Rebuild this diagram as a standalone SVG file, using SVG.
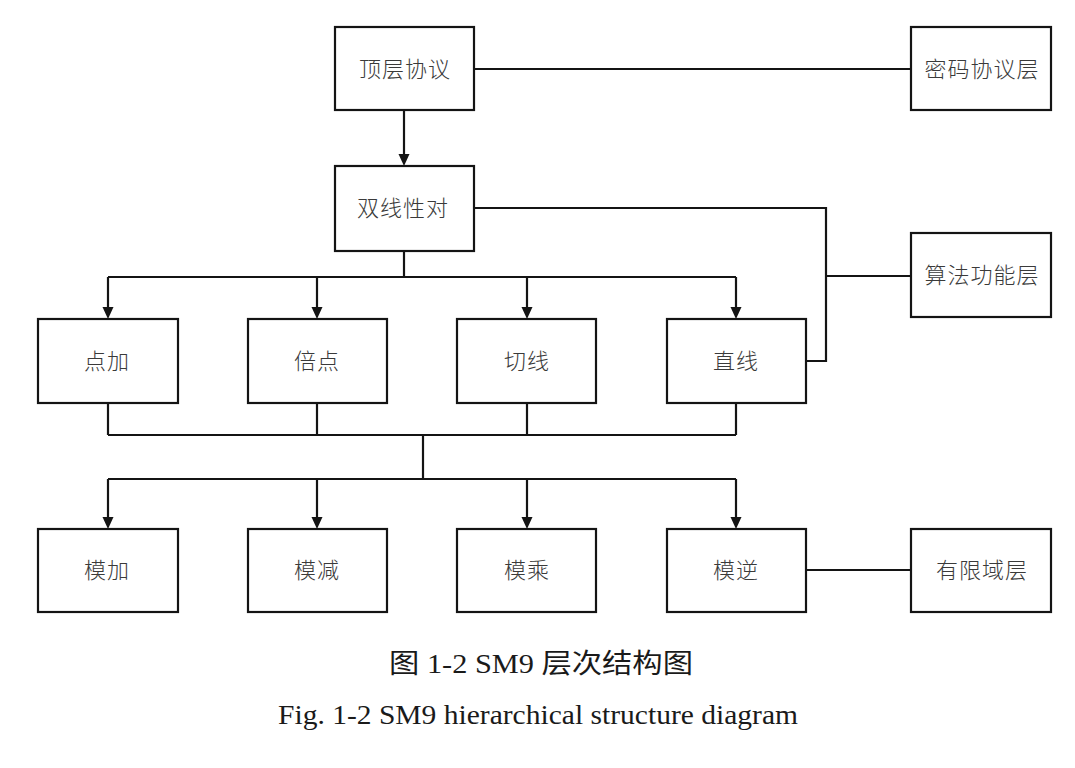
<svg xmlns="http://www.w3.org/2000/svg" width="1075" height="768" viewBox="0 0 1075 768">
<defs>
<style>
.box{fill:#fff;stroke:#141414;stroke-width:2.2}
.lbl{font-family:"Noto Sans CJK SC","Noto Sans CJK JP",sans-serif;font-size:22px;font-weight:300;fill:#3a3a3a;text-anchor:middle;letter-spacing:1px}
.ln{fill:none;stroke:#141414;stroke-width:2.2}
.ah{fill:#141414}
.cap{font-family:"Liberation Serif","Noto Sans CJK SC",serif;fill:#1a1a1a;text-anchor:middle}
</style>
</defs>
<rect width="1075" height="768" fill="#fff"/>
<g id="connectors">
<path class="ln" d="M474,69 H911"/>
<path class="ln" d="M404,110 V155"/>
<path class="ah" d="M398.5,154 L409.5,154 L404,166 Z"/>
<path class="ln" d="M474,208 H826 V361 H806"/>
<path class="ln" d="M826,276 H911"/>
<path class="ln" d="M404,251 V277"/>
<path class="ln" d="M108,277 H736"/>
<path class="ln" d="M108,277 V308 M317,277 V308 M527,277 V308 M736,277 V308"/>
<path class="ah" d="M102.5,307 L113.5,307 L108,319 Z"/>
<path class="ah" d="M311.5,307 L322.5,307 L317,319 Z"/>
<path class="ah" d="M521.5,307 L532.5,307 L527,319 Z"/>
<path class="ah" d="M730.5,307 L741.5,307 L736,319 Z"/>
<path class="ln" d="M108,403 V435 M317,403 V435 M527,403 V435 M736,403 V435"/>
<path class="ln" d="M108,435 H736"/>
<path class="ln" d="M423,435 V479"/>
<path class="ln" d="M108,479 H736"/>
<path class="ln" d="M108,479 V518 M317,479 V518 M527,479 V518 M736,479 V518"/>
<path class="ah" d="M102.5,517 L113.5,517 L108,529 Z"/>
<path class="ah" d="M311.5,517 L322.5,517 L317,529 Z"/>
<path class="ah" d="M521.5,517 L532.5,517 L527,529 Z"/>
<path class="ah" d="M730.5,517 L741.5,517 L736,529 Z"/>
<path class="ln" d="M806,570 H911"/>
</g>
<g id="n-top"><rect class="box" x="335" y="27" width="139" height="83"/><text class="lbl" x="405" y="77">顶层协议</text></g>
<g id="n-crypto"><rect class="box" x="911" y="27" width="140" height="83"/><text class="lbl" x="982" y="77">密码协议层</text></g>
<g id="n-pair"><rect class="box" x="335" y="166" width="139" height="85"/><text class="lbl" x="403" y="216">双线性对</text></g>
<g id="n-algo"><rect class="box" x="911" y="233" width="140" height="84"/><text class="lbl" x="982" y="283">算法功能层</text></g>
<g id="n-padd"><rect class="box" x="38" y="319" width="140" height="84"/><text class="lbl" x="107" y="369">点加</text></g>
<g id="n-pdbl"><rect class="box" x="248" y="319" width="139" height="84"/><text class="lbl" x="317" y="369">倍点</text></g>
<g id="n-tan"><rect class="box" x="457" y="319" width="139" height="84"/><text class="lbl" x="527" y="369">切线</text></g>
<g id="n-line"><rect class="box" x="667" y="319" width="139" height="84"/><text class="lbl" x="736" y="369">直线</text></g>
<g id="n-madd"><rect class="box" x="38" y="529" width="140" height="83"/><text class="lbl" x="107" y="578">模加</text></g>
<g id="n-msub"><rect class="box" x="248" y="529" width="139" height="83"/><text class="lbl" x="317" y="578">模减</text></g>
<g id="n-mmul"><rect class="box" x="457" y="529" width="139" height="83"/><text class="lbl" x="527" y="578">模乘</text></g>
<g id="n-minv"><rect class="box" x="667" y="529" width="139" height="83"/><text class="lbl" x="736" y="578">模逆</text></g>
<g id="n-field"><rect class="box" x="911" y="529" width="140" height="83"/><text class="lbl" x="982" y="578">有限域层</text></g>
<g id="caption">
<text class="cap" x="541" y="673" font-size="27" textLength="304" lengthAdjust="spacingAndGlyphs">图 1-2 SM9 层次结构图</text>
<text class="cap" x="538" y="724" font-size="28" textLength="520" lengthAdjust="spacingAndGlyphs">Fig. 1-2 SM9 hierarchical structure diagram</text>
</g>
</svg>
